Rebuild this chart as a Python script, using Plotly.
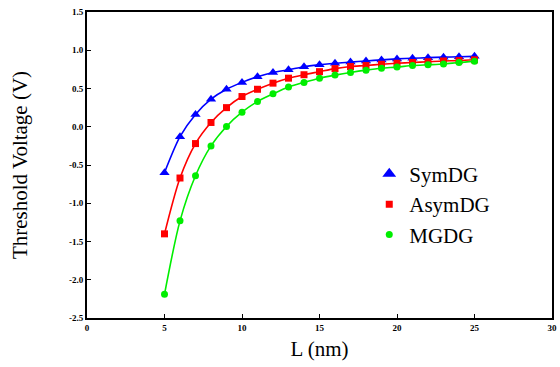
import plotly.graph_objects as go

L = list(range(5, 26))
sym_dg = [-0.60, -0.13, 0.16, 0.36, 0.49, 0.58, 0.655, 0.71, 0.745, 0.785, 0.81, 0.83, 0.845, 0.86, 0.874, 0.887, 0.896, 0.903, 0.91, 0.915, 0.92]
asym_dg = [-1.40, -0.67, -0.22, 0.056, 0.25, 0.395, 0.49, 0.57, 0.635, 0.68, 0.72, 0.76, 0.787, 0.80, 0.817, 0.83, 0.84, 0.85, 0.86, 0.865, 0.875]
mgdg = [-2.19, -1.23, -0.64, -0.25, 0.004, 0.19, 0.33, 0.43, 0.52, 0.58, 0.635, 0.675, 0.71, 0.74, 0.765, 0.78, 0.80, 0.81, 0.82, 0.84, 0.855]

x_ticks = [0, 5, 10, 15, 20, 25, 30]
y_ticks = [-2.5, -2.0, -1.5, -1.0, -0.5, 0.0, 0.5, 1.0, 1.5]

series = [
    ("SymDG", sym_dg, "#0000ff", "triangle-up", 9),
    ("AsymDG", asym_dg, "#ff0000", "square", 7),
    ("MGDG", mgdg, "#00ee00", "circle", 7),
]

fig = go.Figure()
for name, ys, color, sym, size in series:
    fig.add_trace(go.Scatter(
        x=L, y=ys, mode="lines+markers", name=name, showlegend=False,
        line=dict(color=color, width=1.6, shape="spline", smoothing=0.8),
        marker=dict(color=color, symbol=sym, size=size),
    ))
for name, ys, color, sym, size in series:
    fig.add_trace(go.Scatter(
        x=[None], y=[None], mode="markers", name=name, showlegend=True,
        marker=dict(color=color, symbol=sym, size=size + 3 if sym == "triangle-up" else size),
    ))

fig.update_layout(
    width=560, height=367,
    margin=dict(l=87, r=3, t=12, b=49),
    paper_bgcolor="white", plot_bgcolor="white",
    showlegend=True,
    legend=dict(x=0.607, y=0.537, xanchor="left", yanchor="top",
                font=dict(family="Liberation Serif", size=21, color="black"),
                bgcolor="rgba(0,0,0,0)", itemwidth=30),
    xaxis=dict(range=[0, 30], tickvals=x_ticks, ticktext=[str(v) for v in x_ticks],
               showgrid=False, zeroline=False, showline=True, linecolor="black", linewidth=2,
               mirror=True, ticks="inside", ticklen=4, tickcolor="black", tickwidth=1,
               tickfont=dict(family="Liberation Sans Narrow", size=9, color="black"),
               title=dict(text="L (nm)", font=dict(family="Liberation Serif", size=21, color="black"), standoff=10)),
    yaxis=dict(range=[-2.5, 1.5], tickvals=y_ticks, ticktext=["%.1f" % v for v in y_ticks],
               showgrid=False, zeroline=False, showline=True, linecolor="black", linewidth=2,
               mirror=True, ticks="inside", ticklen=4, tickcolor="black", tickwidth=1,
               tickfont=dict(family="Liberation Sans Narrow", size=9, color="black"),
               title=dict(text="Threshold Voltage (V)", font=dict(family="Liberation Serif", size=21, color="black"), standoff=36)),
)
fig.update_xaxes(tickfont_weight="bold")
fig.update_yaxes(tickfont_weight="bold")

fig.write_html("out.html")
